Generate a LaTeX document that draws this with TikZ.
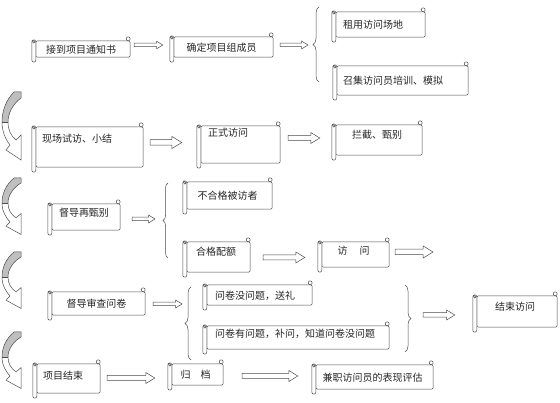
\documentclass[tikz,border=0pt]{standalone}
\usepackage{fontspec}
\setmainfont{Noto Sans CJK SC}
\usetikzlibrary{calc,backgrounds,decorations.pathreplacing}

\tikzset{
  scroll/.style 2 args={minimum width=#1pt,minimum height=#2pt,inner sep=0pt,text=black!85,font=\fontsize{10}{12}\selectfont},
  ltext/.style 2 args={inner xsep=#1pt,text width=#2pt,align=left},
  lift/.style={text depth=#1pt},
  rim/.style={draw=black!70,line width=0.5pt,fill=white},
  bracket/.style={draw=black!70,line width=0.5pt,decorate,decoration={brace,amplitude=#1pt}},
  pics/bendarrow/.style={code={
    \fill[black!25] (13,0) .. controls (5,8) and (1,19) .. (1,30) -- (7,30) .. controls (7,21) and (12,12) .. (20,6) -- (20,0) -- cycle;
    \draw[black!70,line width=0.5pt] (13,0) -- (20,0) -- (20,6) .. controls (12,12) and (7,21) .. (7,30)
      .. controls (7,38) and (10,44) .. (15,48) -- (20,43) -- (20,68) -- (5,58) -- (9,53)
      .. controls (5,48) and (1,40) .. (1,30) .. controls (1,19) and (5,8) .. (13,0) -- cycle;
    \draw[black!70,line width=0.5pt] (1,30) -- (7,30);
  }}
}
\newcommand{\fatarrow}[3][1]{%
  \path[rim] let \p1=#2, \p2=#3 in
    (\x1,\y1+2.5pt*#1) -- (\x2-9pt*#1,\y1+2.5pt*#1) -- (\x2-9pt*#1,\y1+5.5pt*#1)
    -- (\x2,\y1) -- (\x2-9pt*#1,\y1-5.5pt*#1) -- (\x2-9pt*#1,\y1-2.5pt*#1)
    -- (\x1,\y1-2.5pt*#1) -- cycle;}

\begin{document}
\begin{tikzpicture}[x=1pt,y=-1pt]
  \useasboundingbox (0,0) rectangle (560,403);
  \node[scroll={98}{25}] (notice) at (81,49.5) {接到项目通知书};
  \node[scroll={103}{29}] (team) at (221.5,47.5) {确定项目组成员};
  \node[scroll={93}{34},ltext={11}{71}] (venue) at (378.5,25) {租用访问场地};
  \node[scroll={135}{38},ltext={10}{115}] (training) at (400.5,81) {召集访问员培训、模拟};
  \node[scroll={111}{49},ltext={10}{91},lift=18] (pilot) at (87.5,147.5) {现场试访、小结};
  \node[scroll={83}{46},ltext={11}{61},lift=25] (formal) at (238.5,145) {正式访问};
  \node[scroll={90}{39},lift=12] (screen) at (377,140.5) {拦截、甄别};
  \node[scroll={72}{35},lift=10] (rescreen) at (84,217.5) {督导再甄别};
  \node[scroll={89}{36}] (reject) at (227.5,196) {不合格被访者};
  \node[scroll={67}{39},ltext={13}{41},lift=12] (quota) at (216.5,257.5) {合格配额};
  \node[scroll={71}{34},lift=9] (interview) at (353.5,255) {访\hspace{12pt}问};
  \node[scroll={97}{32}] (check) at (96.5,304) {督导审查问卷};
  \node[scroll={109}{29},ltext={12}{85}] (gift) at (257.5,295.5) {问卷没问题，送礼};
  \node[scroll={186}{32},ltext={12}{162},lift=9] (recall) at (296,338) {问卷有问题，补问，知道问卷没问题};
  \node[scroll={84}{40},lift=11] (finish) at (515,312) {结束访问};
  \node[scroll={67}{38},ltext={10}{47},lift=7] (close) at (66.5,379) {项目结束};
  \node[scroll={55}{30}] (archive) at (195.5,375) {归\hspace{10pt}档};
  \node[scroll={121}{33}] (review) at (372.5,377.5) {兼职访问员的表现评估};

  \begin{scope}[on background layer]
    \foreach \n in {notice,team,venue,training,pilot,formal,screen,rescreen,reject,quota,interview,check,gift,recall,finish,close,archive,review}{
      \draw[rim,rounded corners=1.5pt] ($(\n.north west)+(4,4)$) -- ($(\n.north east)+(0,4)$) -- ($(\n.south east)+(0,-5)$) -- ($(\n.south west)+(4,-5)$) -- cycle;
      \draw[rim,rounded corners=2pt] ($(\n.north west)+(0,3)$) rectangle ($(\n.south west)+(4,0)$);
      \draw[rim] ($(\n.north west)+(2,5)$) circle (1.3pt);
      \draw[rim] ($(\n.north east)+(-2,2)$) circle (2pt);
    }
  \end{scope}

  \coordinate (b1) at (313,44.5); \coordinate (b2) at (163,220.5);
  \coordinate (b3) at (185,323.5); \coordinate (b4) at (411,318.5);
  \coordinate (free) at (433,252);
  \draw[bracket=6] (319,82) -- (319,7);
  \draw[bracket=5] (168,258) -- (168,183);
  \draw[bracket=6] (191,360) -- (191,287);
  \draw[bracket=6] (405,285) -- (405,352);

  \fatarrow[0.7]{([xshift=4pt,yshift=4.5pt]notice.east)}{([xshift=-7pt]team.west)}
  \fatarrow[0.7]{([xshift=7pt,yshift=2.5pt]team.east)}{([xshift=-5pt]b1)}
  \fatarrow[1.1]{([xshift=7pt,yshift=5pt]pilot.east)}{([xshift=-15pt]formal.west)}
  \fatarrow{([xshift=8pt,yshift=7pt]formal.east)}{([xshift=-12pt]screen.west)}
  \fatarrow[0.7]{([xshift=12pt,yshift=-1.5pt]rescreen.east)}{([xshift=-8pt]b2)}
  \fatarrow{([xshift=13pt]quota.east)}{([xshift=-13pt]interview.west)}
  \fatarrow[1.1]{([xshift=6pt,yshift=3pt]interview.east)}{(free)}
  \fatarrow[0.7]{([xshift=8pt]check.east)}{([xshift=-3pt]b3)}
  \fatarrow[0.9]{([xshift=12pt,yshift=3.5pt]b4)}{([xshift=-18pt]finish.west)}
  \fatarrow{([xshift=7pt,yshift=1pt]close.east)}{([xshift=-13pt]archive.west)}
  \fatarrow{([xshift=19pt,yshift=-1pt]archive.east)}{([xshift=-14pt]review.west)}

  \pic at (1,92) {bendarrow};
  \pic[yscale=0.83] at (1,178) {bendarrow};
  \pic[yscale=0.83] at (1,252) {bendarrow};
  \pic[yscale=0.83] at (1,332) {bendarrow};
\end{tikzpicture}
\end{document}
